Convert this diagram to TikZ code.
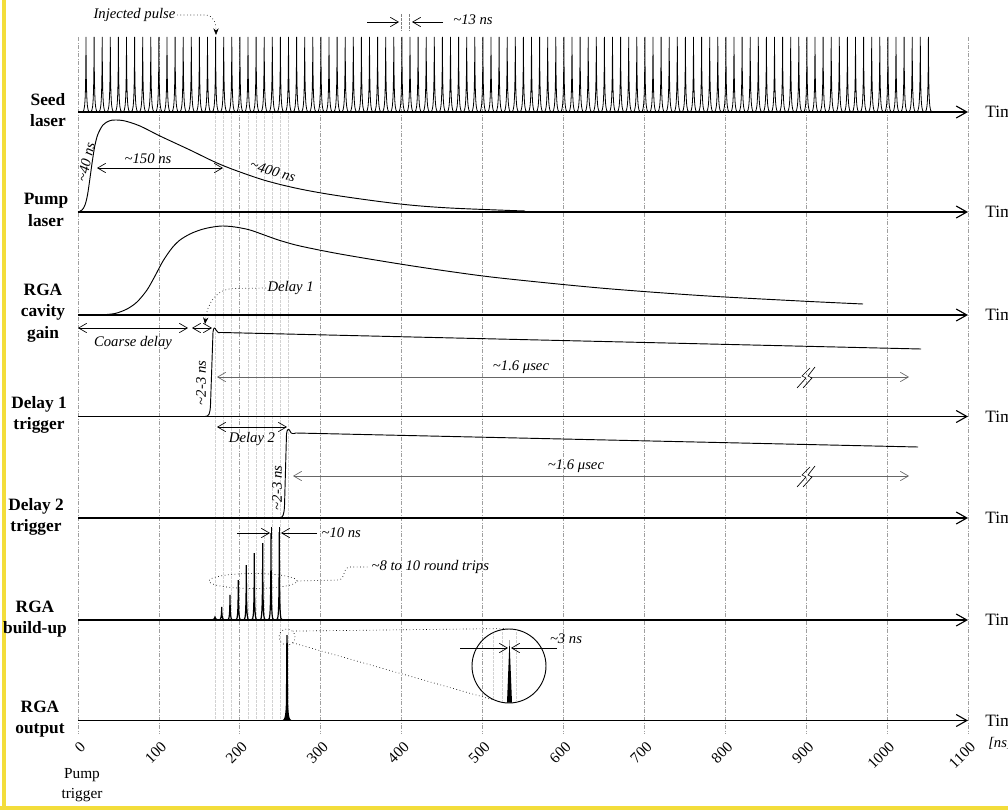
\documentclass[tikz,border=0pt]{standalone}
\usepackage{fontspec}
\setmainfont{Liberation Serif}
\usetikzlibrary{arrows.meta,calc,shapes.geometric}
\definecolor{frameyellow}{RGB}{243,221,58}
\begin{document}
\begin{tikzpicture}[x=0.75pt,y=-0.75pt,
  grid/.style={gray!75, line width=0.5pt, dash pattern=on 3pt off 1.2pt on 0.6pt off 1.2pt},
  lgrid/.style={gray!35, line width=0.5pt, dash pattern=on 2pt off 1pt},
  axis/.style={line width=0.85pt, -{Straight Barb[length=8pt,width=9pt]}},
  dim/.style={line width=0.5pt, {Straight Barb[length=6pt,width=7pt]}-{Straight Barb[length=6pt,width=7pt]}},
  gdim/.style={dim, gray!80!black},
  rarr/.style={line width=0.5pt, -{Straight Barb[length=6pt,width=7pt]}},
  sig/.style={line width=0.7pt, line join=round},
  lab/.style={font=\fontsize{13}{16}\selectfont\bfseries, align=center, inner sep=0pt},
  ann/.style={font=\fontsize{11}{13}\selectfont\itshape, inner sep=1pt},
  timel/.style={font=\fontsize{13}{15}\selectfont, anchor=west, inner sep=0pt},
  tick/.style={font=\fontsize{11.5}{13}\selectfont, rotate=45, anchor=east, inner sep=0pt},
  brk/.pic={
    \fill[white] (-6,-2.2) rectangle (3,2.2);
    \draw[line width=0.5pt] (-10,11) -- (-1,1) -- (-5,-1) -- (3,-9);
    \draw[line width=0.5pt] (-4,11) -- (5,1) -- (1,-1) -- (8,-10);
  }
  ]
\useasboundingbox (0,0) rectangle (1008,810);

% frame
\fill[frameyellow] (2,0) rectangle (6,810);
\fill[frameyellow] (0,805.5) rectangle (1008,810);

% grid lines and tick labels
\foreach \t in {0,100,...,1100}{
  \draw[grid] ({78+0.809*\t},37) -- ({78+0.809*\t},734);
  \node[tick] (tick\t) at ({83+0.809*\t},744) {\t};
}
\foreach \t in {170,180,190,210,220,230,240,250,260}{
  \draw[lgrid] ({78+0.809*\t},112) -- ({78+0.809*\t},720);
}

% axes
\foreach \n/\y in {seed/112, pump/212, gain/315, dA/416.5, dB/518, bu/620, out/720.5}{
  \coordinate (\n0) at (78,\y);
  \coordinate (\n1) at (968,\y);
  \draw[axis] (\n0) -- (\n1);
  \node[timel] (\n-time) at (985,\y) {Time};
}
\node[ann, anchor=west, inner sep=0pt] (unit) at (988,743) {[ns]};

% row labels
\node[lab] (Lseed) at (48,110) {Seed\\laser};
\node[lab] (Lpump) at (46,210) {Pump\\laser};
\node[lab] (Lgain) at (43,313) {RGA\\cavity\\gain};
\node[lab] (LdA) at (39,415) {Delay 1\\trigger};
\node[lab] (LdB) at (36,517) {Delay 2\\trigger};
\node[lab] (Lbu) at (35,619) {RGA\\build-up};
\node[lab] (Lout) at (40,719) {RGA\\output};
\node[font=\fontsize{11.5}{15}\selectfont, align=center, inner sep=0pt] (ptrig) at (82,785) {Pump\\trigger};

% seed laser pulses
\foreach \k in {0,...,104}{
  \pgfmathsetmacro\px{86+8.1*\k}
  \draw[line width=0.6pt] (\px-4,112) .. controls (\px-1,112) and (\px-0.3,106) .. (\px,37) .. controls (\px+0.3,106) and (\px+1,112) .. (\px+4,112);
}
% injected pulse
\node[ann, anchor=east] (inj) at (177,15) {Injected pulse};
\coordinate (injtip) at (216,35);
\draw[dotted, line width=0.5pt, -{Stealth[length=5pt,width=4pt]}] (inj.east) -- (205,15) .. controls (213,15) and (216,22) .. (injtip);
% ~13 ns
\coordinate (a13l) at (367,22); \coordinate (a13lt) at (399,22);
\coordinate (a13r) at (443,22); \coordinate (a13rt) at (412,22);
\draw[rarr] (a13l) -- (a13lt);
\draw[rarr] (a13r) -- (a13rt);
\draw[gray, line width=0.5pt, dash pattern=on 2pt off 1pt] (401.7,14) -- (401.7,31) (409.3,14) -- (409.3,31);
\node[ann] (n13) at (473,20) {\textasciitilde 13 ns};

% pump laser
\draw[sig] plot[smooth, tension=0.55] coordinates {(78,212) (82,210) (85,205) (87.5,195) (90,178) (92.5,160) (95,145) (98,134) (103,125) (109,121) (115,120) (125,121) (140,126) (160,136) (190,150) (217,163) (240,172) (267,181) (300,189) (340,196) (400,204) (450,208) (525,211)};
\node[ann, rotate=77] (n40) at (86,162) {\textasciitilde 40 ns};
\coordinate (p150a) at (97,168); \coordinate (p150b) at (223,168);
\draw[dim] (p150a) -- (p150b);
\node[ann] (n150) at (148,159) {\textasciitilde 150 ns};
\node[ann, rotate=-17] (n400) at (273,171) {\textasciitilde 400 ns};

% RGA cavity gain
\draw[sig] plot[smooth, tension=0.5] coordinates {(100,315) (115,313.5) (127,309) (137,302) (147,290) (155,276) (163,261) (172,248) (180,240) (190,234) (200,230) (210,227.5) (222,226) (235,227) (250,230) (267,236) (280,240.5) (300,246) (340,254) (400,264) (450,271.5) (500,278) (600,288) (700,295.5) (800,301) (863,304)};

% coarse delay / delay 1
\coordinate (cd0) at (78,328); \coordinate (cd1) at (188,328);
\coordinate (dl0) at (192,328); \coordinate (dl1) at (212,328);
\draw[dim] (cd0) -- (cd1);
\draw[dim] (dl0) -- (dl1);
\node[ann] (ncoarse) at (133,343) {Coarse delay};
\node[ann, anchor=west] (ndelay1) at (266,288) {Delay 1};
\coordinate (d1tip) at (205,324);
\draw[dotted, line width=0.5pt, -{Stealth[length=5pt,width=4pt]}] (ndelay1.west) -- (235,288.5) .. controls (215,288.5) and (207,305) .. (d1tip);

% delay 1 trigger
\draw[sig] (205,416.5) .. controls (209,416.5) and (210,414) .. (210.5,405) -- (213,332) .. controls (213.5,327) and (215,327) .. (216,330) .. controls (217,333) and (219,333) .. (222,332.5) -- (921,349);
\node[ann, rotate=90] (n23a) at (201,383) {\textasciitilde 2-3 ns};
\coordinate (u1a) at (217,377); \coordinate (u1b) at (909,377);
\draw[gdim] (u1a) -- (u1b);
\node[ann] (nu1) at (521,367) {\textasciitilde 1.6 μsec};
\pic at (807,377) {brk};

% delay 2 trigger
\coordinate (dd0) at (217,427); \coordinate (dd1) at (287,427);
\draw[dim] (dd0) -- (dd1);
\node[ann] (ndelay2) at (252,439) {Delay 2};
\draw[sig] (279,518) .. controls (283,518) and (284,515) .. (284.5,506) -- (286.5,434) .. controls (287,428.5) and (289,428.5) .. (290,431) .. controls (291,434) and (293,434) .. (296,433) -- (918,447);
\node[ann, rotate=90] (n23b) at (277,488) {\textasciitilde 2-3 ns};
\coordinate (u2a) at (293,476); \coordinate (u2b) at (909,476);
\draw[gdim] (u2a) -- (u2b);
\node[ann] (nu2) at (576,466) {\textasciitilde 1.6 μsec};
\pic at (807,476) {brk};

% build-up
\draw[line width=0.7pt] (210,620) -- (285,620);
\foreach \x/\h in {215/617, 221.7/607, 230/595, 238.3/580, 246.3/565, 254.3/553, 262.7/543, 271/533, 279.3/532}{
  \draw[line width=0.9pt] (\x-3,620) .. controls (\x-0.8,620) and (\x-0.2,618) .. (\x,\h) .. controls (\x+0.2,618) and (\x+0.8,620) .. (\x+3,620);
}
\coordinate (a10l) at (237,533); \coordinate (a10lt) at (270,533);
\coordinate (a10r) at (317,533); \coordinate (a10rt) at (281,533);
\draw[rarr] (a10l) -- (a10lt);
\draw[rarr] (a10r) -- (a10rt);
\draw[line width=0.5pt] (271.5,527) -- (271.5,539) (279.5,527) -- (279.5,539);
\node[ann, anchor=west] (n10) at (320,533) {\textasciitilde 10 ns};
\node[draw, dotted, ellipse, line width=0.5pt, minimum width=88*0.75pt, minimum height=15*0.75pt, inner sep=0pt] (trips) at (253,581) {};
\node[ann, anchor=west] (ntrips) at (370,567) {\textasciitilde 8 to 10 round trips};
\draw[dotted, line width=0.5pt] (trips.east) -- (338,580) .. controls (346,580) and (342,567) .. (350,567) -- (ntrips.west);

% RGA output
\fill (282,720.5) .. controls (285,720.5) and (285.7,713) .. (285.9,700) -- (286.3,635) -- (287.7,635) -- (288.1,700) .. controls (288.3,713) and (289,720.5) .. (292,720.5) -- cycle;
\node[draw, dotted, circle, line width=0.5pt, minimum size=16*0.75pt, inner sep=0pt] (small) at (287,637) {};
\node[draw, circle, line width=0.7pt, minimum size=74*0.75pt, inner sep=0pt] (big) at (509,666) {};
\begin{scope}
  \clip (509,666) circle [radius=36.5];
  \foreach \gx in {493,502,516}{
    \draw[lgrid] (\gx,620) -- (\gx,710);
  }
\end{scope}
\fill (507,702.5) -- (509.5,640) -- (512,702.5) -- cycle;
\draw[dotted, line width=0.5pt] (small.north east) -- ($(big.north)+(-4,0)$);
\draw[dotted, line width=0.5pt] (small.south east) -- (big.-116);
\coordinate (a3l) at (460,648); \coordinate (a3lt) at (508,648);
\coordinate (a3r) at (557,648); \coordinate (a3rt) at (511,648);
\draw[rarr] (a3l) -- (a3lt);
\draw[rarr] (a3r) -- (a3rt);
\node[ann] (n3) at (566,639) {\textasciitilde 3 ns};

\end{tikzpicture}
\end{document}
